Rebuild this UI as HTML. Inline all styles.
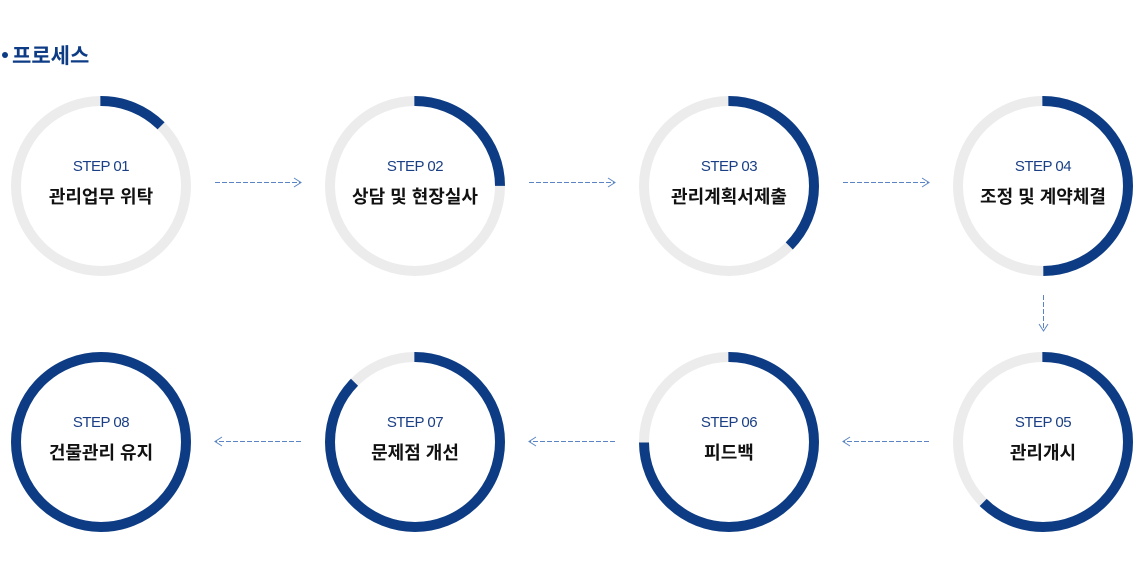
<!DOCTYPE html>
<html><head><meta charset="utf-8"><style>
html,body{margin:0;padding:0;background:#fff;width:1133px;height:566px;overflow:hidden}
svg text{font-family:"Liberation Sans","Noto Sans CJK KR",sans-serif}
</style></head><body>
<svg width="1133" height="566" viewBox="0 0 1133 566">
<defs><marker id="a" markerWidth="10" markerHeight="10" refX="8" refY="5" orient="auto" markerUnits="userSpaceOnUse"><path d="M1,0.5 L8,5 L1,9.5" fill="none" stroke="#5b84c4" stroke-width="1"/></marker></defs>
<circle cx="5" cy="55" r="3" fill="#0d3c85"/>
<text x="12" y="63" font-size="21" font-weight="bold" fill="#0d3c85">프로세스</text>
<g fill="none" stroke-width="10">
<g stroke="#ececec">
<circle cx="101" cy="186" r="85"/><circle cx="415" cy="186" r="85"/><circle cx="729" cy="186" r="85"/><circle cx="1043" cy="186" r="85"/>
<circle cx="101" cy="442" r="85"/><circle cx="415" cy="442" r="85"/><circle cx="729" cy="442" r="85"/><circle cx="1043" cy="442" r="85"/>
</g>
<g stroke="#0d3c85">
<circle cx="101" cy="186" r="85" pathLength="8" stroke-dasharray="1 7" transform="rotate(-90 101 186)"/>
<circle cx="415" cy="186" r="85" pathLength="8" stroke-dasharray="2 6" transform="rotate(-90 415 186)"/>
<circle cx="729" cy="186" r="85" pathLength="8" stroke-dasharray="3 5" transform="rotate(-90 729 186)"/>
<circle cx="1043" cy="186" r="85" pathLength="8" stroke-dasharray="4 4" transform="rotate(-90 1043 186)"/>
<circle cx="1043" cy="442" r="85" pathLength="8" stroke-dasharray="5 3" transform="rotate(-90 1043 442)"/>
<circle cx="729" cy="442" r="85" pathLength="8" stroke-dasharray="6 2" transform="rotate(-90 729 442)"/>
<circle cx="415" cy="442" r="85" pathLength="8" stroke-dasharray="7 1" transform="rotate(-90 415 442)"/>
<circle cx="101" cy="442" r="85"/>
</g>
</g>
<g stroke="#5b84c4" stroke-width="1" stroke-dasharray="5 2" marker-end="url(#a)">
<line x1="215" y1="182.5" x2="301" y2="182.5"/>
<line x1="529" y1="182.5" x2="615" y2="182.5"/>
<line x1="843" y1="182.5" x2="929" y2="182.5"/>
<line x1="1043.5" y1="295" x2="1043.5" y2="331"/>
<line x1="929" y1="441.5" x2="843" y2="441.5"/>
<line x1="615" y1="441.5" x2="529" y2="441.5"/>
<line x1="301" y1="441.5" x2="215" y2="441.5"/>
</g>
<g text-anchor="middle">
<g font-size="15" fill="#1a3f85" letter-spacing="-0.5">
<text x="101" y="171">STEP 01</text><text x="415" y="171">STEP 02</text><text x="729" y="171">STEP 03</text><text x="1043" y="171">STEP 04</text>
<text x="101" y="427">STEP 08</text><text x="415" y="427">STEP 07</text><text x="729" y="427">STEP 06</text><text x="1043" y="427">STEP 05</text>
</g>
<g font-size="18" font-weight="bold" fill="#111">
<text x="101" y="203">관리업무 위탁</text><text x="415" y="203">상담 및 현장실사</text><text x="729" y="203">관리계획서제출</text><text x="1043" y="203">조정 및 계약체결</text>
<text x="101" y="459">건물관리 유지</text><text x="415" y="459">문제점 개선</text><text x="729" y="459">피드백</text><text x="1043" y="459">관리개시</text>
</g>
</g>
</svg>
</body></html>
